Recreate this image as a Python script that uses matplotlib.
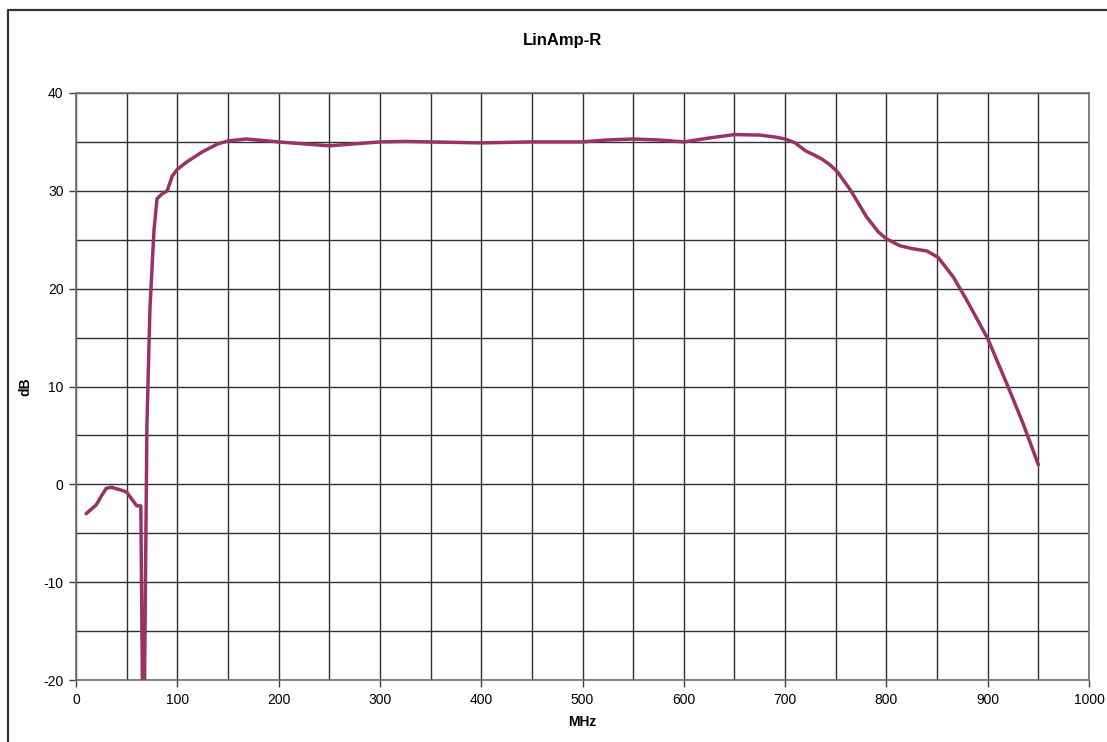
import matplotlib
matplotlib.use("Agg")
import matplotlib.pyplot as plt
from matplotlib.lines import Line2D

plt.rcParams["font.family"] = ["Liberation Sans", "DejaVu Sans"]
plt.rcParams["axes.unicode_minus"] = False

mhz = [10, 20, 25, 30, 35, 45, 50, 55, 60, 64, 65.6, 67.6,
       70, 73, 77, 80, 85, 90, 95, 100, 110, 125, 140, 150, 168,
       200, 225, 250, 275, 300, 325, 350, 400, 450, 500, 525, 550,
       575, 600, 625, 650, 675, 690, 700, 710, 720, 728, 737, 745, 752,
       765, 780, 792, 800, 813, 825, 840, 851, 866, 880, 900, 920, 935, 950]
db = [-3.0, -2.1, -1.2, -0.4, -0.3, -0.6, -0.8, -1.5, -2.2, -2.2, -21, -21,
      6.0, 18.0, 26.0, 29.2, 29.7, 30.0, 31.5, 32.2, 33.0, 34.0, 34.8, 35.1, 35.3,
      35.0, 34.8, 34.6, 34.8, 35.0, 35.05, 35.0, 34.9, 35.0, 35.0, 35.2, 35.3,
      35.2, 35.0, 35.4, 35.75, 35.7, 35.5, 35.3, 34.9, 34.1, 33.7, 33.2, 32.6, 31.9,
      30.0, 27.4, 25.8, 25.1, 24.4, 24.1, 23.85, 23.2, 21.2, 18.7, 14.9, 10.0, 6.2, 2.0]

fig = plt.figure(figsize=(11.07, 7.42), dpi=100)
ax = fig.add_axes([76 / 1107, 1 - 680 / 742, (1089 - 76) / 1107, (680 - 93) / 742])

ax.plot(mhz, db, color="#993366", lw=2.5, solid_joinstyle="round",
        solid_capstyle="round", zorder=3)

ax.set_xlim(0, 1000)
ax.set_ylim(-20, 40)
ax.set_xticks(range(0, 1001, 100))
ax.set_yticks(range(-20, 41, 10))
ax.set_xticks(range(0, 1001, 50), minor=True)
ax.set_yticks(range(-20, 41, 5), minor=True)
ax.grid(True, which="both", color="#303030", lw=1.0)
ax.tick_params(which="major", direction="out", length=5, width=1,
               color="#404040", labelsize=10, pad=4)
ax.tick_params(which="minor", length=0)
for s in ax.spines.values():
    s.set_color("#707070")
    s.set_linewidth(1.2)

ax.set_xlabel("MHz", fontsize=10, fontweight="bold", labelpad=6)
ax.set_ylabel("dB", fontsize=10, fontweight="bold")
ax.yaxis.set_label_coords(-44 / 1013, 0.5)
fig.text(0.508, 1 - 40 / 742, "LinAmp-R", ha="center", va="center",
         fontsize=12, fontweight="bold")

# outer chart frame
fig.add_artist(Line2D([8 / 1107, 8 / 1107, 1.0], [0.0, 1 - 10 / 742, 1 - 10 / 742],
                      transform=fig.transFigure, color="#333333", lw=1.6))

fig.savefig("out.png", dpi=100)
